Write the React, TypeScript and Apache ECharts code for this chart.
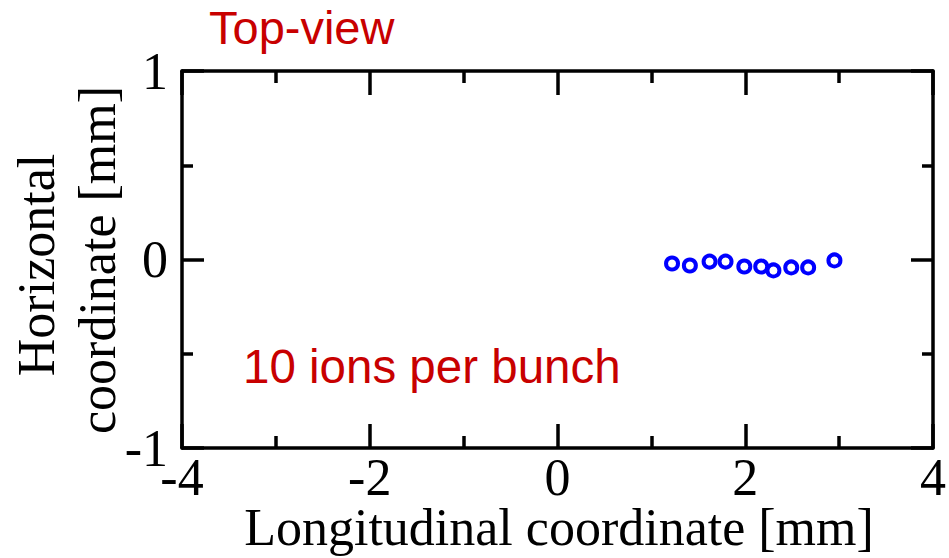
import React, { useEffect, useRef } from "react";
import * as echarts from "echarts";

const xValues = [1.22, 1.41, 1.62, 1.79, 1.99, 2.17, 2.3, 2.49, 2.67, 2.95];
const yValues = [-0.021, -0.032, -0.011, -0.011, -0.037, -0.037, -0.058, -0.042, -0.042, -0.005];
const xTicks = { min: -4, max: 4, interval: 2 };
const yTicks = { min: -1, max: 1, interval: 1 };
const titleText = "Top-view";
const noteText = "10 ions per bunch";
const xTitle = "Longitudinal coordinate [mm]";
const yTitleLines = ["Horizontal", "coordinate [mm]"];

const SERIF = "'Liberation Serif', 'Times New Roman', serif";
const SANS = "'Liberation Sans', Arial, sans-serif";
const RED = "#c80000";

export default function App() {
  const ref = useRef<HTMLDivElement>(null);
  useEffect(() => {
    if (!ref.current) return;
    const chart = echarts.init(ref.current, undefined, { renderer: "svg" });
    const lineStyle = { color: "#000", width: 3.5 };
    const mkX = (pos: "bottom" | "top", labels: boolean) => ({
      type: "value",
      position: pos,
      min: xTicks.min,
      max: xTicks.max,
      interval: xTicks.interval,
      axisLine: { show: true, onZero: false, lineStyle },
      axisTick: { show: true, inside: true, length: 24, lineStyle },
      minorTick: { show: true, splitNumber: 2, length: 12, lineStyle },
      splitLine: { show: false },
      minorSplitLine: { show: false },
      axisLabel: labels
        ? { show: true, fontFamily: SERIF, fontSize: 52, color: "#000", margin: 9, lineHeight: 40 }
        : { show: false },
    });
    const mkY = (pos: "left" | "right", labels: boolean) => ({
      type: "value",
      position: pos,
      min: yTicks.min,
      max: yTicks.max,
      interval: yTicks.interval,
      axisLine: { show: true, onZero: false, lineStyle },
      axisTick: { show: true, inside: true, length: 22, lineStyle },
      minorTick: { show: true, splitNumber: 2, length: 11, lineStyle },
      splitLine: { show: false },
      minorSplitLine: { show: false },
      axisLabel: labels
        ? { show: true, fontFamily: SERIF, fontSize: 52, color: "#000", margin: 14 }
        : { show: false },
    });
    chart.setOption({
      animation: false,
      backgroundColor: "#fff",
      grid: { left: 182, right: 11, top: 71, bottom: 110, containLabel: false },
      xAxis: [mkX("bottom", true), mkX("top", false)],
      yAxis: [mkY("left", true), mkY("right", false)],
      series: [
        {
          type: "scatter",
          xAxisIndex: 0,
          yAxisIndex: 0,
          data: xValues.map((x, i) => [x, yValues[i]]),
          symbol: "circle",
          symbolSize: 12,
          itemStyle: { color: "rgba(0,0,0,0)", borderColor: "#0000ff", borderWidth: 4, opacity: 1 },
        },
      ],
      graphic: [
        {
          type: "text",
          left: 209,
          top: 4,
          style: { text: titleText, fontFamily: SANS, fontSize: 47, fill: RED },
        },
        {
          type: "text",
          left: 243,
          top: 342,
          style: { text: noteText, fontFamily: SANS, fontSize: 47.5, fill: RED },
        },
        {
          type: "text",
          x: 559,
          y: 527,
          style: {
            text: xTitle,
            fontFamily: SERIF,
            fontSize: 52,
            lineHeight: 44,
            fill: "#000",
            align: "center",
            verticalAlign: "middle",
          },
        },
        {
          type: "text",
          x: 36,
          y: 265,
          rotation: Math.PI / 2,
          style: {
            text: yTitleLines[0],
            fontFamily: SERIF,
            fontSize: 52,
            fill: "#000",
            align: "center",
            verticalAlign: "middle",
          },
        },
        {
          type: "text",
          x: 97,
          y: 260,
          rotation: Math.PI / 2,
          style: {
            text: yTitleLines[1],
            fontFamily: SERIF,
            fontSize: 52,
            fill: "#000",
            align: "center",
            verticalAlign: "middle",
          },
        },
      ],
    });
    return () => chart.dispose();
  }, []);
  return (
    <div
      ref={ref}
      style={{ position: "fixed", left: 0, top: 0, width: 949, height: 558 }}
    />
  );
}
